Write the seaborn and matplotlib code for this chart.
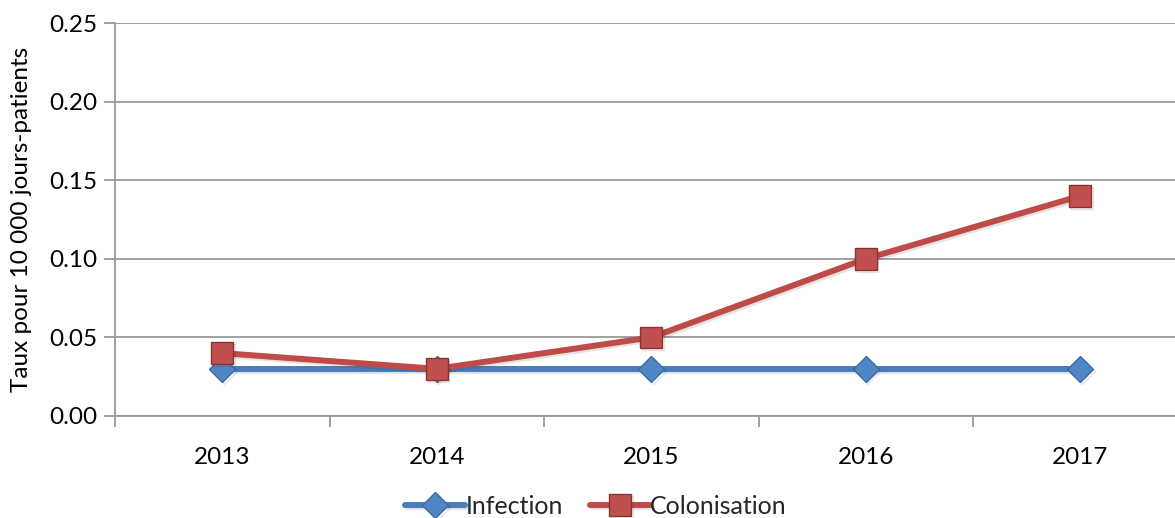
import matplotlib
matplotlib.use("Agg")
import matplotlib.pyplot as plt
import matplotlib.patheffects as pe
import seaborn as sns
import pandas as pd

years = ["2013", "2014", "2015", "2016", "2017"]
infection = [0.03, 0.03, 0.03, 0.03, 0.03]
colonisation = [0.04, 0.03, 0.05, 0.10, 0.14]
y_ticks = [0.00, 0.05, 0.10, 0.15, 0.20, 0.25]
y_label = "Taux pour 10 000 jours-patients"

sns.set_theme(style="white")
plt.rcParams["font.family"] = ["Lato", "DejaVu Sans"]

df_inf = pd.DataFrame({"annee": years, "taux": infection})
df_col = pd.DataFrame({"annee": years, "taux": colonisation})

fig = plt.figure(figsize=(11.75, 5.18), dpi=100)
ax = fig.add_axes([115 / 1175, (518 - 416) / 518, (1187.5 - 115) / 1175, (416 - 23) / 518])

shadow = [pe.SimpleLineShadow(offset=(1.2, -1.5), alpha=0.12), pe.Normal()]

sns.lineplot(data=df_inf, x="annee", y="taux", ax=ax, color="#4a7ebb", linewidth=4.3,
             marker="D", markersize=13, markerfacecolor="#4f86c6",
             markeredgecolor="#3b6aa3", markeredgewidth=1.0, label="Infection",
             path_effects=shadow, zorder=3)
sns.lineplot(data=df_col, x="annee", y="taux", ax=ax, color="#be4b48", linewidth=4.3,
             marker="s", markersize=15.5, markerfacecolor="#c0504d",
             markeredgecolor="#8c3331", markeredgewidth=1.0, label="Colonisation",
             path_effects=shadow, zorder=4)

ax.set_xlim(-0.5, 4.5)
ax.set_ylim(0, 0.25)
ax.set_yticks(y_ticks)
ax.set_yticklabels([f"{v:.2f}" for v in y_ticks])
ax.set_xlabel("")
ax.set_ylabel(y_label, fontsize=17.5, color="black")
ax.yaxis.set_label_coords((32 - 115) / 1072.5, 0.5)

ax.grid(axis="y", color="#999999", linewidth=1.3)
ax.grid(axis="x", visible=False)
ax.set_axisbelow(True)
for side in ["top", "right"]:
    ax.spines[side].set_visible(False)
for side in ["left", "bottom"]:
    ax.spines[side].set_color("#999999")
    ax.spines[side].set_linewidth(1.3)

# category boundary tick marks on the x axis
ax.set_xticks([-0.5, 0.5, 1.5, 2.5, 3.5, 4.5], minor=True)
ax.tick_params(axis="x", which="minor", length=8, width=1.3, color="#999999", direction="out", bottom=True)
ax.tick_params(axis="x", which="major", length=0, labelsize=17.5, pad=22, labelcolor="black")
ax.tick_params(axis="y", length=8, width=1.3, color="#999999", direction="out", left=True,
               labelsize=17.5, pad=5, labelcolor="black")

leg = ax.legend(loc="center", bbox_to_anchor=((596 - 115) / 1072.5, (416 - 506) / 393),
                ncol=2, frameon=False, fontsize=18, handlelength=2.4,
                columnspacing=1.1, handletextpad=0.0, borderpad=0)

fig.savefig("out.png", dpi=100)
